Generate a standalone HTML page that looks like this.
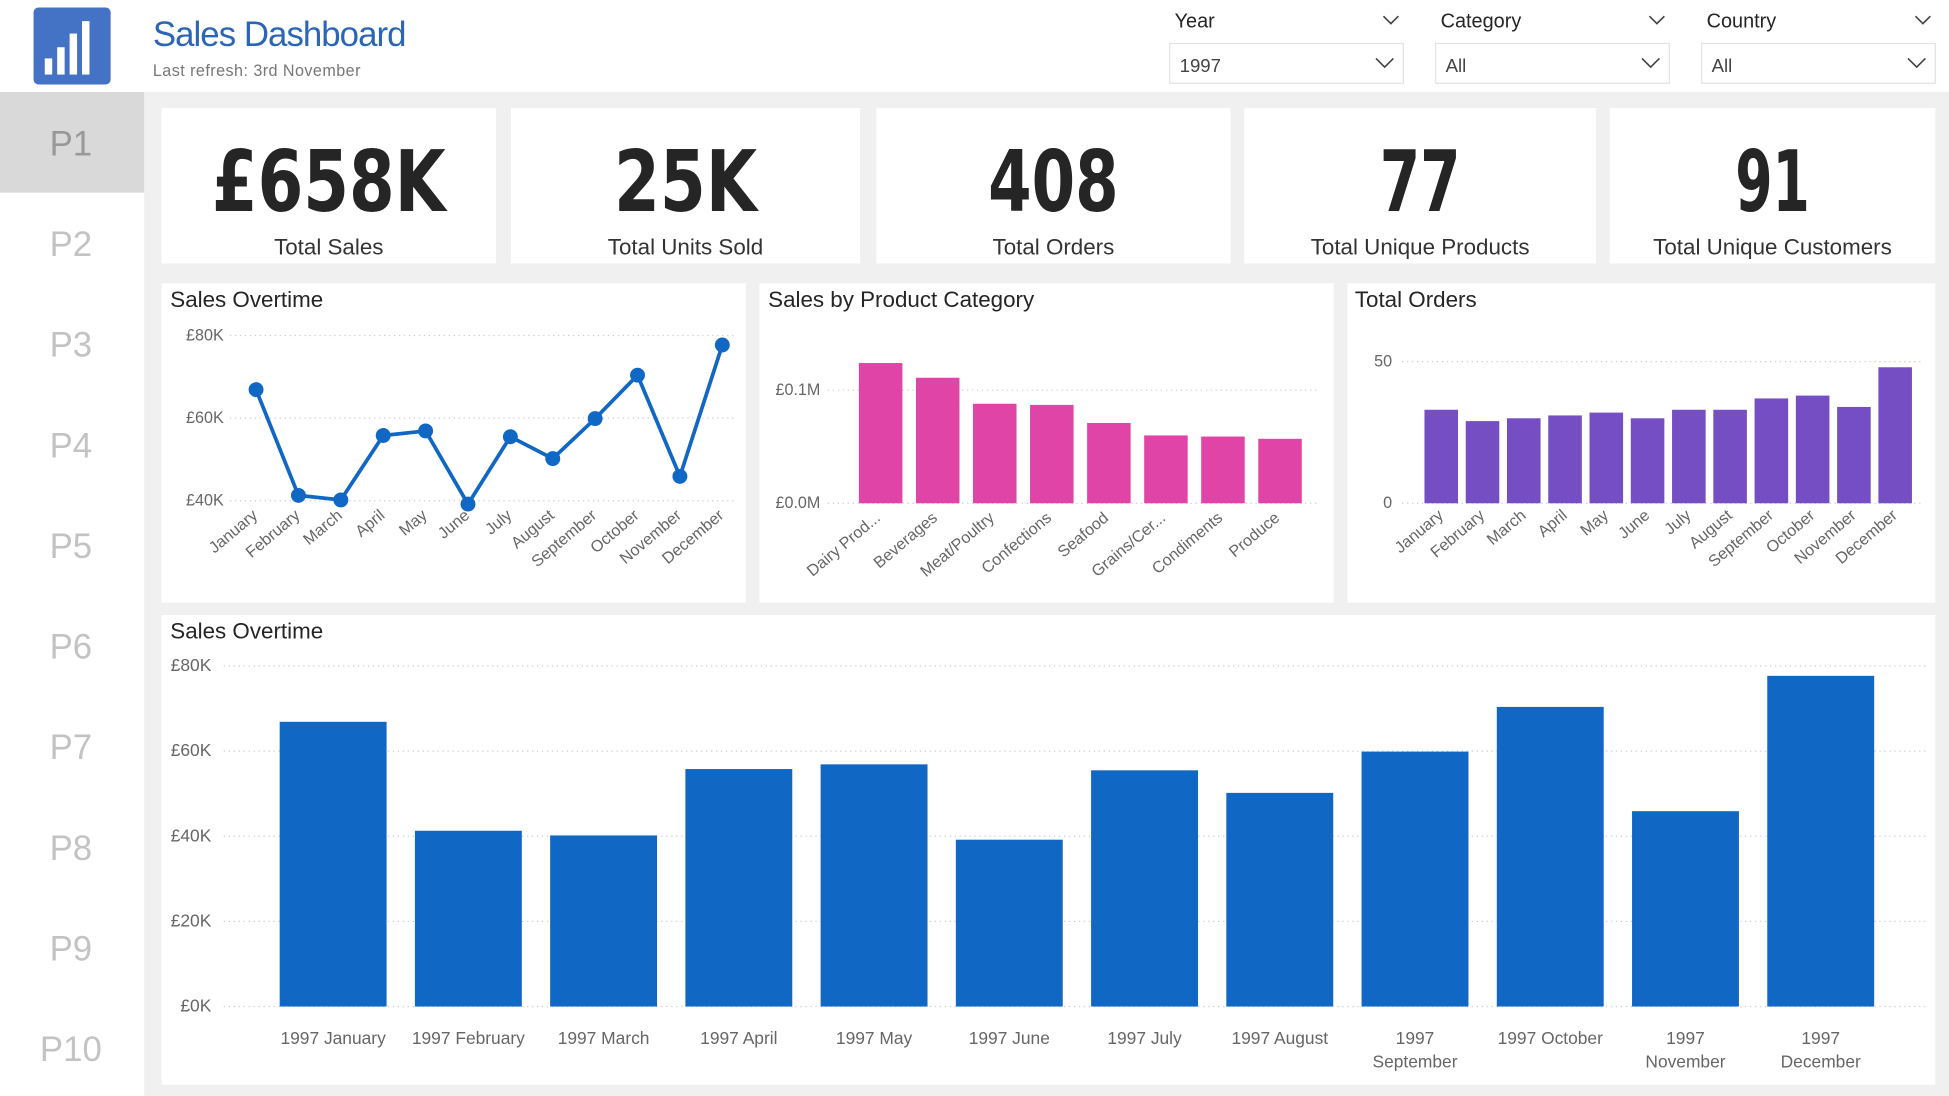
<!DOCTYPE html>
<html><head><meta charset="utf-8">
<style>
html,body{margin:0;padding:0;width:1949px;height:1096px;overflow:hidden;background:#f0f0f0}
svg{display:block;font-family:"Liberation Sans","DejaVu Sans",sans-serif}
</style></head>
<body>
<svg id="s" width="1949" height="1096" viewBox="0 0 1568 882" preserveAspectRatio="none" xmlns="http://www.w3.org/2000/svg">
<rect x="0" y="0" width="1568" height="882" fill="#f0f0f0"/>
<g>
<rect x="0" y="0" width="1568" height="74" fill="#fff"/>
<rect x="27" y="6" width="62" height="62" rx="4" fill="#4472c4"/>
<rect x="36" y="47" width="6" height="13" fill="#fff"/><rect x="46" y="38" width="6" height="22" fill="#fff"/><rect x="56" y="27" width="6" height="33" fill="#fff"/><rect x="66" y="17" width="6" height="43" fill="#fff"/>
<text x="123" y="37" font-size="28" fill="#2b65b8" textLength="204">Sales Dashboard</text>
<text x="123" y="61" font-size="13" fill="#777" textLength="167">Last refresh: 3rd November</text>
</g>
<g id="slicers"></g>
<g>
<rect x="0" y="74" width="116" height="808" fill="#fff"/>
<rect x="0" y="74" width="116" height="81" fill="#d9d9d9"/>
<g id="nav"></g>
</g>
<g id="kpis"></g>
<g><rect x="130" y="228" width="470" height="257" fill="#fff"/><text x="137" y="247" font-size="18" fill="#252525">Sales Overtime</text><g id="line"></g></g>
<g><rect x="611" y="228" width="462" height="257" fill="#fff"/><text x="618" y="247" font-size="18" fill="#252525">Sales by Product Category</text><g id="cat"></g></g>
<g><rect x="1084" y="228" width="473" height="257" fill="#fff"/><text x="1090" y="247" font-size="18" fill="#252525">Total Orders</text><g id="ord"></g></g>
<g><rect x="130" y="495" width="1427" height="378" fill="#fff"/><text x="137" y="514" font-size="18" fill="#252525">Sales Overtime</text><g id="bar"></g></g>
</svg>
<script>
const months=["January","February","March","April","May","June","July","August","September","October","November","December"];
const monthlySales=[66.9,41.3,40.2,55.8,56.9,39.2,55.5,50.2,59.9,70.4,45.9,77.7];
const lineTicks=[40,60,80];
const categories=["Dairy Prod...","Beverages","Meat/Poultry","Confections","Seafood","Grains/Cer...","Condiments","Produce"];
const categorySales=[124,111,88,87,71,60,59,57];
const catTicks=[0,100];
const catTickLabels=["£0.0M","£0.1M"];
const monthlyOrders=[33,29,30,31,32,30,33,33,37,38,34,48];
const orderTicks=[0,50];
const barTicks=[0,20,40,60,80];
const barLabels=[["1997 January"],["1997 February"],["1997 March"],["1997 April"],["1997 May"],["1997 June"],["1997 July"],["1997 August"],["1997","September"],["1997 October"],["1997","November"],["1997","December"]];
const kpiValues=["£658K","25K","408","77","91"];
const kpiLabels=["Total Sales","Total Units Sold","Total Orders","Total Unique Products","Total Unique Customers"];
const kpiWidths=[188,115,105,65,60];
const NS="http://www.w3.org/2000/svg";
function mk(p,tag,a,txt){const e=document.createElementNS(NS,tag);for(const k in a)e.setAttribute(k,a[k]);if(txt!=null)e.textContent=txt;p.appendChild(e);return e;}
const sl=document.getElementById('slicers');
[["Year","1997",941],["Category","All",1155],["Country","All",1369]].forEach(s=>{
 const g=mk(sl,'g',{});
 
 
 mk(g,'text',{x:s[2]+4,y:22,'font-size':16,fill:'#252525'},s[0]);
 mk(g,'path',{d:`M${s[2]+172} 13 l6 6 l6 -6`,fill:'none',stroke:'#444','stroke-width':1.3});
 mk(g,'rect',{x:s[2],y:35,width:188,height:32,fill:'#fff',stroke:'#e3e3e3'});
 mk(g,'text',{x:s[2]+8,y:58,'font-size':15,fill:'#444'},s[1]);
 mk(g,'path',{d:`M${s[2]+166} 47 l7 7 l7 -7`,fill:'none',stroke:'#444','stroke-width':1.3});
});
const nav=document.getElementById('nav');
for(let i=0;i<10;i++){const t=mk(nav,'text',{x:57,y:125+81*i,'font-size':28,'text-anchor':'middle',fill:i==0?'#999':'#c3c3c3'},'P'+(i+1));
 
 }
const kp=document.getElementById('kpis');
const kx=[[130,399],[411,692],[705,990],[1001,1284],[1295,1557]];
kx.forEach((c,i)=>{const g=mk(kp,'g',{});
 
 
 mk(g,'rect',{x:c[0],y:87,width:c[1]-c[0],height:125,fill:'#fff'});
 const cx=(c[0]+c[1])/2;
 mk(g,'text',{x:cx-kpiWidths[i]/2,y:170,'font-size':68,'font-weight':'bold',fill:'#252525','font-family':'"DejaVu Sans Condensed","Liberation Sans",sans-serif',textLength:kpiWidths[i],lengthAdjust:'spacingAndGlyphs'},kpiValues[i]);
 mk(g,'text',{x:cx,y:205,'font-size':18,'text-anchor':'middle',fill:'#333'},kpiLabels[i]);
});
function grid(p,x0,x1,y){mk(p,'line',{x1:x0,x2:x1,y1:y,y2:y,stroke:'#ccc','stroke-dasharray':'1 3'});}
function rotLabel(p,x,y,t){mk(p,'text',{x:x,y:y,'font-size':13,fill:'#666','text-anchor':'end',transform:`rotate(-40 ${x} ${y})`},t);}
(function(){const p=document.getElementById('line');
 const y=v=>403-(v-40)*133/40, x=i=>206+i*34.1;
 lineTicks.forEach(t=>{grid(p,185,592,y(t));mk(p,'text',{x:180,y:y(t)+4,'font-size':13,fill:'#666','text-anchor':'end'},'£'+t+'K');});
 mk(p,'polyline',{points:monthlySales.map((v,i)=>x(i)+','+y(v)).join(' '),fill:'none',stroke:'#1167c4','stroke-width':3});
 monthlySales.forEach((v,i)=>{const c=mk(p,'circle',{cx:x(i),cy:y(v),r:6,fill:'#1167c4'});
  
  
  rotLabel(p,x(i)+2,416,months[i]);});
})();
(function(){const p=document.getElementById('cat');
 const y=v=>405-v*0.91, x=i=>691+i*45.9;
 catTicks.forEach((t,k)=>{grid(p,666,1062,y(t));mk(p,'text',{x:660,y:y(t)+4,'font-size':13,fill:'#666','text-anchor':'end'},catTickLabels[k]);});
 categorySales.forEach((v,i)=>{const r=mk(p,'rect',{x:x(i),y:y(v),width:35,height:v*0.91,fill:'#e044a7'});
  
  
  rotLabel(p,x(i)+18,418,categories[i]);});
})();
(function(){const p=document.getElementById('ord');
 const y=v=>405-v*2.28, x=i=>1146+i*33.2;
 orderTicks.forEach(t=>{grid(p,1128,1548,y(t));mk(p,'text',{x:1120,y:y(t)+4,'font-size':13,fill:'#666','text-anchor':'end'},t);});
 monthlyOrders.forEach((v,i)=>{const r=mk(p,'rect',{x:x(i),y:y(v),width:27,height:v*2.28,fill:'#744ec2'});
  
  
  rotLabel(p,x(i)+16,416,months[i]);});
})();
(function(){const p=document.getElementById('bar');
 const y=v=>810-v*3.425, x=i=>225+i*108.8;
 barTicks.forEach(t=>{grid(p,180,1550,y(t));mk(p,'text',{x:170,y:y(t)+4,'font-size':14,fill:'#666','text-anchor':'end'},'£'+t+'K');});
 monthlySales.forEach((v,i)=>{const r=mk(p,'rect',{x:x(i),y:y(v),width:86,height:v*3.425,fill:'#1167c4'});
  
  
  barLabels[i].forEach((l,k)=>mk(p,'text',{x:x(i)+43,y:840+k*19,'font-size':14,fill:'#666','text-anchor':'middle'},l));});
})();
</script>
</body></html>
